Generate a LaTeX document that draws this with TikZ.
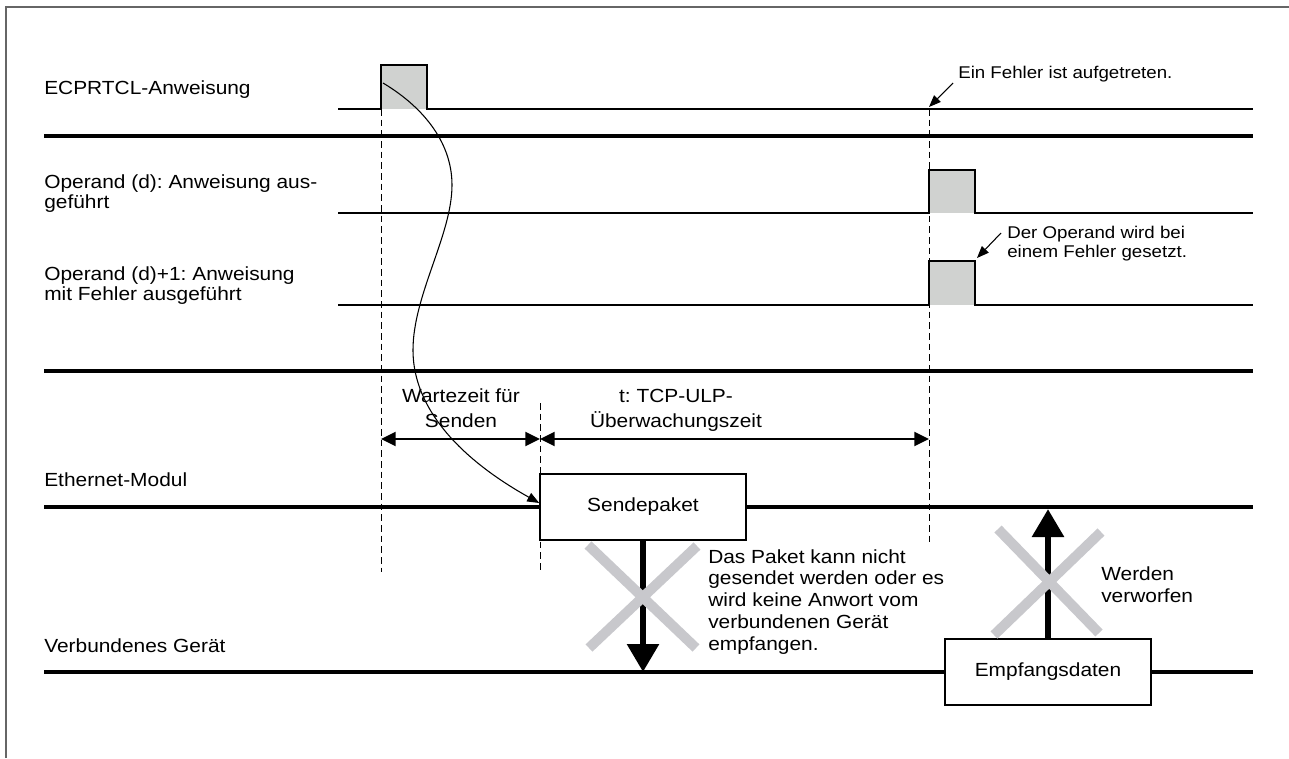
\documentclass[tikz,border=0pt]{standalone}
\usepackage{fontspec}
\setmainfont{Liberation Sans}[FakeStretch=1.1]
\frenchspacing
\definecolor{PulseGray}{HTML}{D0D2D0}
\definecolor{CrossGray}{HTML}{C8C8CC}
\definecolor{FrameGray}{HTML}{666666}
\usetikzlibrary{arrows.meta, calc}

\begin{document}
\begin{tikzpicture}[
    x=0.75pt, y=-0.75pt,
    lbl/.style={anchor=base west, inner sep=0pt, align=left, font=\fontsize{14.25}{14.5}\selectfont},
    txt/.style={anchor=base west, inner sep=0pt, align=left, font=\fontsize{14.25}{16.3}\selectfont},
    dimlbl/.style={anchor=base, inner sep=0pt, align=center, font=\fontsize{14.25}{18.75}\selectfont},
    note/.style={anchor=base west, inner sep=0pt, align=left, font=\fontsize{12.75}{14.25}\selectfont},
    box/.style={draw, fill=white, line width=1.1pt, minimum width=154.5pt, minimum height=49.5pt, inner sep=0pt, font=\fontsize{14.25}{16}\selectfont},
    sig/.style={line width=1.1pt},
    pulse/.style={fill=PulseGray},
    sep/.style={line width=3pt},
    bus/.style={line width=3pt},
    guide/.style={dash pattern=on 5pt off 3pt, line width=0.75pt},
    dimarr/.style={{Triangle[length=11pt,width=10.5pt]}-{Triangle[length=11pt,width=10.5pt]}, line width=1.5pt},
    callout/.style={-{Triangle[length=9pt,width=7pt]}, line width=0.8pt},
    bigarr/.style={-{Triangle[length=21pt,width=23pt]}, line width=5pt},
    cross/.style={CrossGray, line width=7.5pt}
]
    \useasboundingbox (0,0) rectangle (1289,758);
    \draw[FrameGray, line width=1.1pt] (6,758) -- (6,7) -- (1289,7);

    % signal names (base = last line)
    \node[lbl] (cmdLbl) at (44,94) {ECPRTCL-Anweisung};
    \node[lbl] (doneLbl) at (44,208) {Operand (d): Anweisung aus-\\geführt};
    \node[lbl] (errLbl) at (44,300) {Operand (d)+1: Anweisung\\mit Fehler ausgeführt};
    \node[lbl] (ethLbl) at (44,486) {Ethernet-Modul};
    \node[lbl] (devLbl) at (44,652) {Verbundenes Gerät};

    \draw[sep] (44,136) -- (1253,136);
    \draw[sep] (44,371) -- (1253,371);

    % pulses
    \fill[pulse] (381,65) rectangle (427,109);
    \draw[sig] (338,109) -| (381,65) -| (427,109) -- (1253,109);
    \fill[pulse] (929,170) rectangle (975,213);
    \draw[sig] (338,213) -| (929,170) -| (975,213) -- (1253,213);
    \fill[pulse] (929,261) rectangle (975,305);
    \draw[sig] (338,305) -| (929,261) -| (975,305) -- (1253,305);

    \draw[guide] (381,109) -- (381,572);
    \draw[guide] (540,403) -- (540,573);
    \draw[guide] (929,109) -- (929,545);

    % times
    \coordinate (tWait) at (381,439);
    \coordinate (tSend) at (540,439);
    \coordinate (tErr) at (929,439);
    \draw[dimarr] (tWait) -- (tSend);
    \draw[dimarr] (tSend) -- (tErr);
    \node[dimlbl] (waitLbl) at (461,427) {Wartezeit für\\Senden};
    \node[dimlbl] (ulpLbl) at (676,427) {t: TCP-ULP-\\Überwachungszeit};

    % module and device
    \node[box] (sendBox) at (643,507) {Sendepaket};
    \node[box] (recvBox) at (1048,672) {Empfangsdaten};
    \draw[bus] (44,507) -- (sendBox.west);
    \draw[bus] (sendBox.east) -- (1253,507);
    \draw[bus] (44,672) -- (recvBox.west);
    \draw[bus] (recvBox.east) -- (1253,672);

    \coordinate (devHit) at (643,672);
    \coordinate (ethHit) at (1048,509);
    \draw[bigarr] (sendBox.south) -- (devHit);
    \draw[bigarr] (recvBox.north) -- (ethHit);
    \draw[cross] (588,545) -- (696,648);
    \draw[cross] (589,648) -- (697,546);
    \draw[cross] (994,635) -- (1101,532);
    \draw[cross] (998,529) -- (1099,633);

    \node[txt] (lossTxt) at (708,650) {Das Paket kann nicht\\gesendet werden oder es\\wird keine Anwort vom\\verbundenen Gerät\\empfangen.};
    \node[txt] (dropTxt) at (1101,602) {Werden\\verworfen};

    % notes
    \node[note] (errNote) at (958,78) {Ein Fehler ist aufgetreten.};
    \node[note] (setNote) at (1007,257) {Der Operand wird bei\\einem Fehler gesetzt.};
    \coordinate (errTip) at (929,107);
    \coordinate (setTip) at (977,258);
    \draw[callout] ([shift={(-5,5)}]errNote.base west) -- (errTip);
    \draw[callout] ([shift={(-6,-24)}]setNote.base west) -- (setTip);

    \coordinate (cmdRise) at (383,83);
    \draw[callout] (cmdRise) .. controls (420,105) and (452,140) .. (452,185)
        .. controls (452,235) and (413,295) .. (413,350)
        .. controls (413,420) and (480,470) .. ([yshift=3pt]sendBox.west);
\end{tikzpicture}
\end{document}
